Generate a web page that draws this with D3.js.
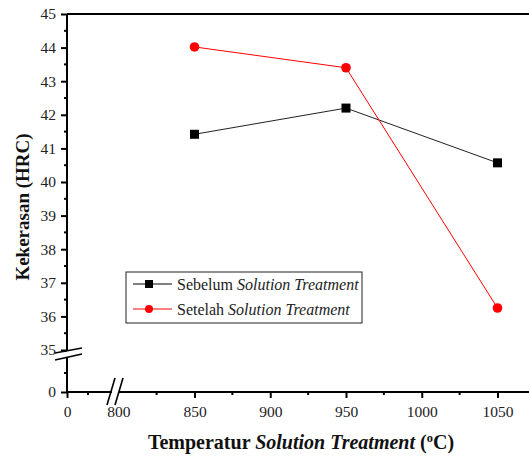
<!DOCTYPE html>
<html>
<head>
<meta charset="utf-8">
<script src="https://cdnjs.cloudflare.com/ajax/libs/d3/7.8.5/d3.min.js"></script>
<style>
  body { margin: 0; background: #fff; }
  svg, svg text { font-family: "Liberation Serif", "Times New Roman", "DejaVu Serif", serif; }
</style>
</head>
<body>
<div id="chart"></div>
<script>
// data
var temps = [850, 950, 1050];
var sebelum = [41.42, 42.2, 40.57];
var setelah = [44.02, 43.4, 36.25];
var yTicks = [35, 36, 37, 38, 39, 40, 41, 42, 43, 44, 45];
var xTicks = [850, 900, 950, 1000, 1050];
var seriesNames = ["Sebelum", "Setelah"];

var FONT = "'Liberation Serif', 'Times New Roman', 'DejaVu Serif', serif";
var W = 529, H = 457;
var svg = d3.select("#chart").append("svg").attr("width", W).attr("height", H)
  .attr("font-family", FONT);

// broken axes: upper/right segments carry the data
var x = d3.scaleLinear().domain([850, 1050]).range([194.5, 497.5]);
var xLow = d3.scaleLinear().domain([0, 100]).range([67, 109]);
var y = d3.scaleLinear().domain([35, 45]).range([350, 14]);
var yLow = d3.scaleLinear().domain([0, 10]).range([392, 354]);

var x0 = 67, yBase = 392;

// top frame
svg.append("line").attr("x1", x0).attr("x2", W).attr("y1", y(45)).attr("y2", y(45))
  .attr("stroke", "#000").attr("stroke-width", 2);

// y axis upper
var yAx = svg.append("g").attr("transform", "translate(" + x0 + ",0)")
  .call(d3.axisLeft(y).tickValues(yTicks).tickSize(6).tickFormat(d3.format("d")));
yAx.select(".domain").remove();
svg.append("line").attr("x1", x0).attr("x2", x0).attr("y1", y(45)).attr("y2", 351)
  .attr("stroke", "#000").attr("stroke-width", 2);
svg.append("g").selectAll("line").data(d3.range(35.5, 45, 1)).join("line")
  .attr("x1", x0 - 3).attr("x2", x0).attr("y1", d => y(d)).attr("y2", d => y(d))
  .attr("stroke", "#000").attr("stroke-width", 2);

// y axis lower
var yLowAx = svg.append("g").attr("transform", "translate(" + x0 + ",0)")
  .call(d3.axisLeft(yLow).tickValues([0]).tickSize(6));
yLowAx.select(".domain").remove();
svg.append("line").attr("x1", x0).attr("x2", x0).attr("y1", 357).attr("y2", yBase)
  .attr("stroke", "#000").attr("stroke-width", 2);
svg.append("line").attr("x1", x0 - 3).attr("x2", x0).attr("y1", yLow(5)).attr("y2", yLow(5))
  .attr("stroke", "#000").attr("stroke-width", 2);

// x axis lower
var xLowAx = svg.append("g").attr("transform", "translate(0," + yBase + ")")
  .call(d3.axisBottom(xLow).tickValues([0]).tickSize(6));
xLowAx.select(".domain").remove();
svg.append("line").attr("x1", x0).attr("x2", 112).attr("y1", yBase).attr("y2", yBase)
  .attr("stroke", "#000").attr("stroke-width", 2);
svg.append("line").attr("x1", xLow(50)).attr("x2", xLow(50)).attr("y1", yBase).attr("y2", yBase + 3)
  .attr("stroke", "#000").attr("stroke-width", 2);

// x axis upper
var xAx = svg.append("g").attr("transform", "translate(0," + yBase + ")")
  .call(d3.axisBottom(x).tickValues(xTicks).tickSize(6).tickFormat(d3.format("d")));
xAx.select(".domain").remove();
svg.append("line").attr("x1", 119).attr("x2", W).attr("y1", yBase).attr("y2", yBase)
  .attr("stroke", "#000").attr("stroke-width", 2);
svg.append("g").selectAll("line").data([825, 875, 925, 975, 1025]).join("line")
  .attr("x1", d => x(d)).attr("x2", d => x(d)).attr("y1", yBase).attr("y2", yBase + 3)
  .attr("stroke", "#000").attr("stroke-width", 2);
svg.append("text").attr("x", x(800)).attr("y", yBase + 25).attr("text-anchor", "middle")
  .attr("font-size", 15.5).attr("fill", "#222").text("800");

[yAx, yLowAx, xAx, xLowAx].forEach(function (g) {
  g.attr("font-family", FONT);
  g.selectAll(".tick line").attr("stroke-width", 2);
  g.selectAll(".tick text").attr("font-size", 15.5).attr("fill", "#222");
});
xAx.selectAll(".tick text").attr("dy", "1.05em");
xLowAx.selectAll(".tick text").attr("dy", "1.05em");
yAx.selectAll(".tick text").attr("x", -11);
yLowAx.selectAll(".tick text").attr("x", -11);

// break marks
var brk = svg.append("g").attr("stroke", "#000").attr("stroke-width", 1.6);
brk.append("line").attr("x1", 55).attr("y1", 353).attr("x2", 82).attr("y2", 348);
brk.append("line").attr("x1", 55).attr("y1", 360).attr("x2", 82).attr("y2", 354);
brk.append("line").attr("x1", 107).attr("y1", 405).attr("x2", 115).attr("y2", 378);
brk.append("line").attr("x1", 115).attr("y1", 405).attr("x2", 123).attr("y2", 378);

// lines & markers
var line = d3.line().x(d => x(d[0])).y(d => y(d[1]));
var s1 = d3.zip(temps, sebelum), s2 = d3.zip(temps, setelah);
svg.append("path").datum(s1).attr("d", line).attr("fill", "none").attr("stroke", "#222").attr("stroke-width", 1);
svg.append("path").datum(s2).attr("d", line).attr("fill", "none").attr("stroke", "#ff0000").attr("stroke-width", 1);
svg.append("g").selectAll("rect").data(s1).join("rect")
  .attr("x", d => x(d[0]) - 4.5).attr("y", d => y(d[1]) - 4.5).attr("width", 9).attr("height", 9).attr("fill", "#000");
svg.append("g").selectAll("circle").data(s2).join("circle")
  .attr("cx", d => x(d[0])).attr("cy", d => y(d[1])).attr("r", 4.8).attr("fill", "#ff0000");

// legend
var lg = svg.append("g");
lg.append("rect").attr("x", 126).attr("y", 272).attr("width", 236).attr("height", 51)
  .attr("fill", "#fff").attr("stroke", "#222").attr("stroke-width", 1);
var rows = [284, 309];
seriesNames.forEach(function (n, i) {
  var col = i == 0 ? "#000" : "#ff0000";
  lg.append("line").attr("x1", 133).attr("x2", 172).attr("y1", rows[i]).attr("y2", rows[i])
    .attr("stroke", col).attr("stroke-width", 1);
  if (i == 0) lg.append("rect").attr("x", 145).attr("y", rows[i] - 4).attr("width", 8).attr("height", 8).attr("fill", col);
  else lg.append("circle").attr("cx", 149).attr("cy", rows[i]).attr("r", 4).attr("fill", col);
  var t = lg.append("text").attr("x", 177).attr("y", rows[i] + 5.5).attr("font-size", 16).attr("fill", "#222");
  t.append("tspan").text(n + " ");
  t.append("tspan").attr("font-style", "italic").text("Solution Treatment");
});

// axis titles
var xt = svg.append("text").attr("x", 301).attr("y", 449).attr("text-anchor", "middle")
  .attr("font-size", 20).attr("font-weight", "bold").attr("fill", "#111");
xt.append("tspan").text("Temperatur ");
xt.append("tspan").attr("font-style", "italic").text("Solution Treatment");
xt.append("tspan").text(" (");
xt.append("tspan").attr("font-size", 12.5).attr("dy", -7).text("o");
xt.append("tspan").attr("dy", 7).text("C)");

svg.append("text").attr("transform", "translate(29,207) rotate(-90)").attr("text-anchor", "middle")
  .attr("font-size", 19).attr("font-weight", "bold").attr("fill", "#111").text("Kekerasan (HRC)");
</script>
</body>
</html>
